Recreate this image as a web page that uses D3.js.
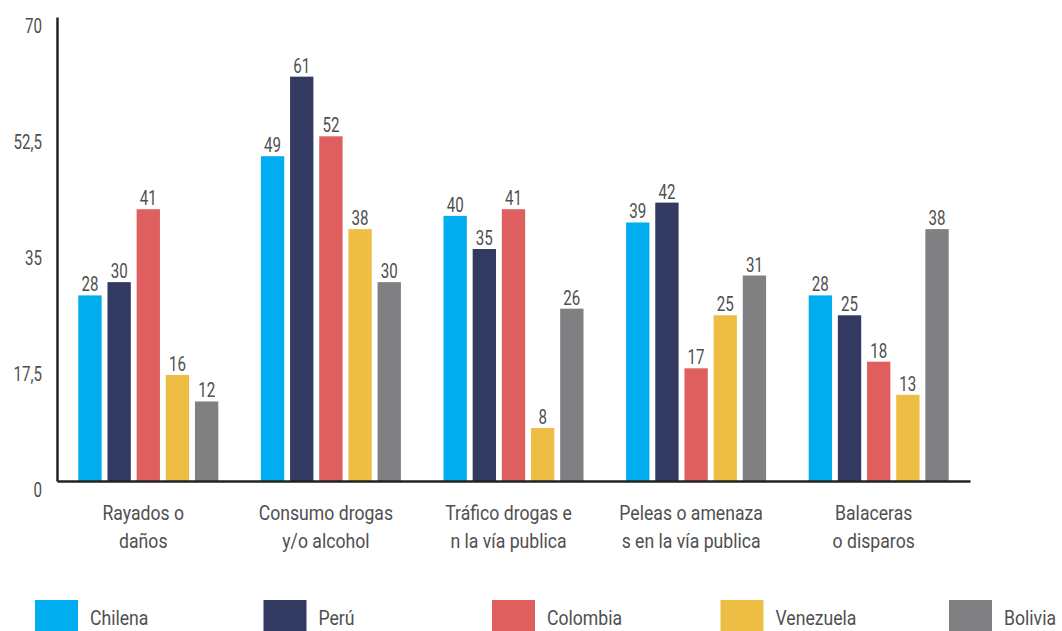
<!DOCTYPE html>
<html><head><meta charset="utf-8">
<script src="https://cdn.jsdelivr.net/npm/d3@7"></script>
<style>
body{margin:0;background:#fff;}
svg{display:block;}
text{font-family:Roboto,"Noto Sans",sans-serif;fill:#4f4f4f;}
</style></head>
<body>
<svg id="chart" width="1062" height="631"></svg>
<script>
const categories = [["Rayados o","daños"],["Consumo drogas","y/o alcohol"],["Tráfico drogas e","n la vía publica"],["Peleas o amenaza","s en la vía publica"],["Balaceras","o disparos"]];
const seriesNames = ["Chilena","Perú","Colombia","Venezuela","Bolivia"];
const chilena = [28,49,40,39,28];
const peru = [30,61,35,42,25];
const colombia = [41,52,41,17,18];
const venezuela = [16,38,8,25,13];
const bolivia = [12,30,26,31,38];
const tickValues = [0,17.5,35,52.5,70];
const tickLabels = ["0","17,5","35","52,5","70"];
const colors = ["#00AEEF","#333A62","#DE5F5E","#EDBE43","#808083"];

(function(){
const seriesValues = [chilena, peru, colombia, venezuela, bolivia];
const svg = d3.select("#chart");
const mLeft = 57, mRight = 970, mTop = 17, mBottom = 481;
const FS = 21, SX_TXT = 0.84, SX_NUM = 0.72;

// condensed text helper: place text at (x,y) and squeeze horizontally
function ctext(parent, x, y, str, sx, anchor){
  return parent.append("text")
    .attr("transform", `translate(${x},${y}) scale(${sx},1)`)
    .attr("text-anchor", anchor || "middle")
    .attr("font-size", FS).text(str);
}

const x0 = d3.scaleBand().domain(d3.range(categories.length)).range([mLeft, mRight]).padding(0);
const groupW = 140;
const x1 = d3.scaleBand().domain(d3.range(seriesNames.length)).range([0, groupW]).paddingInner(0.2).paddingOuter(0);
const y = d3.scaleLinear().domain([0,70]).range([mBottom, mTop]);

const groups = svg.append("g").selectAll("g").data(categories).join("g")
  .attr("transform", (d,i)=>`translate(${x0(i)+x0.bandwidth()/2-groupW/2},0)`);
groups.each(function(d,ci){
  const g = d3.select(this);
  seriesValues.forEach((vals,si)=>{
    g.append("rect").attr("x", x1(si)).attr("width", x1.bandwidth())
      .attr("y", y(vals[ci])).attr("height", mBottom - y(vals[ci]))
      .attr("fill", colors[si]);
    ctext(g, x1(si)+x1.bandwidth()/2, y(vals[ci])-4, vals[ci], SX_NUM, "middle");
  });
});

// y axis
const yAxis = d3.axisLeft(y).tickValues(tickValues).tickSize(0).tickFormat("");
const ya = svg.append("g").attr("transform",`translate(${mLeft},0)`).call(yAxis);
ya.select(".domain").attr("stroke","#222").attr("stroke-width",2.5);
tickValues.forEach((v,i)=> ctext(svg, 42, y(v)+16, tickLabels[i], SX_NUM, "end"));

// x axis line
const xAxis = d3.axisBottom(x0).tickSize(0).tickFormat("");
const xa = svg.append("g").attr("transform",`translate(0,${mBottom})`).call(xAxis);
xa.select(".domain").attr("stroke","#222").attr("stroke-width",2.5);

// category labels
const cg = svg.append("g");
categories.forEach((lines,i)=>{
  lines.forEach((line,j)=> ctext(cg, x0(i)+x0.bandwidth()/2-5, 520 + j*28, line, SX_TXT, "middle"));
});

// legend
const lg = svg.append("g");
seriesNames.forEach((name,i)=>{
  const lx = 35 + i*228.5;
  lg.append("rect").attr("x", lx).attr("y", 600).attr("width",43).attr("height",43).attr("fill",colors[i]);
  ctext(lg, lx+55, 625, name, SX_TXT, "start");
});
})();
</script>
</body></html>
